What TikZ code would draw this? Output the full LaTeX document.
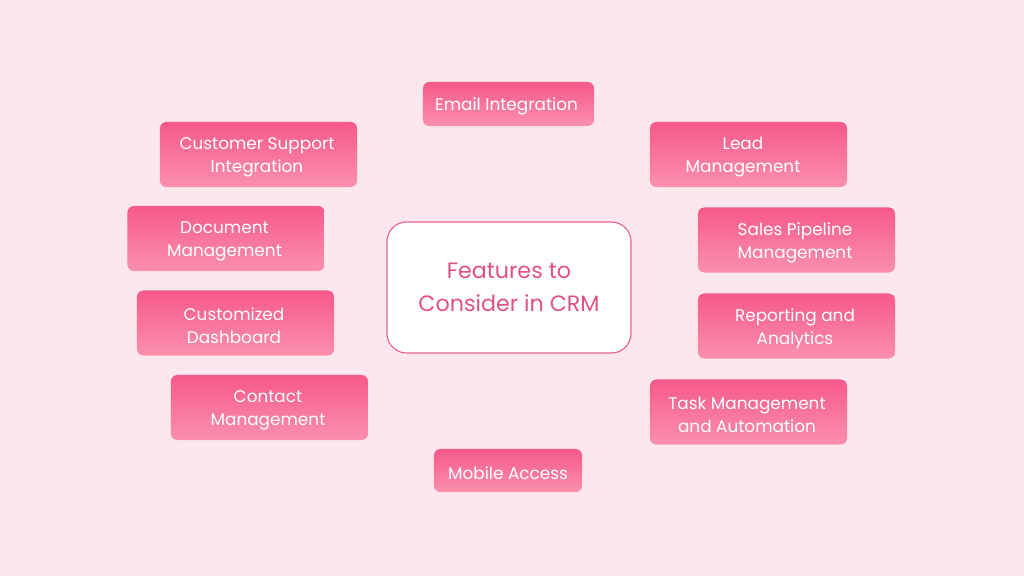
\documentclass[tikz,border=0pt]{standalone}
\usepackage{fontspec}
\setmainfont{Poppins}
\definecolor{bg}{HTML}{FDE7EE}
\definecolor{boxtop}{HTML}{F6598A}
\definecolor{boxbot}{HTML}{FA90AE}
\definecolor{cborder}{HTML}{E5628F}
\definecolor{ctext}{HTML}{E0527F}
\begin{document}
\begin{tikzpicture}[x=0.025cm,y=-0.025cm,
  feat/.style={rounded corners=4.5pt, top color=boxtop, bottom color=boxbot,
    minimum width=4.925cm, minimum height=1.625cm, inner sep=0pt},
  ftext/.style={align=center, text=white, inner sep=0pt,
    font=\fontsize{12}{16.3}\selectfont, yshift=-2.5*0.025cm, xshift=-1.5*0.025cm},
  center/.style={rounded corners=14pt, fill=white, draw=cborder, line width=0.8pt,
    minimum width=6.1cm, minimum height=3.275cm, inner sep=0pt,
    align=center, text=ctext, font=\fontsize{15.8}{23.4}\selectfont}]
\fill[bg] (0,0) rectangle (1024,576);
\useasboundingbox (0,0) rectangle (1024,576);
\node[center] (c) at (509,287.5) {Features to\\Consider in CRM};
\node[feat, minimum width=4.275cm, minimum height=1.1cm,
  label={[ftext, xshift=-0.0125cm]center:Email Integration}] (email) at (508.5,104) {};
\node[feat, minimum width=3.7cm, minimum height=1.075cm,
  label={[ftext, xshift=0.0375cm]center:Mobile Access}] (mobile) at (508,470.5) {};
\node[feat, label={[ftext]center:Customer Support\\Integration}] (cs) at (258.5,154.5) {};
\node[feat, label={[ftext]center:Document\\Management}] (doc) at (226,238.5) {};
\node[feat, label={[ftext]center:Customized\\Dashboard}] (dash) at (235.5,323) {};
\node[feat, label={[ftext]center:Contact\\Management}] (contact) at (269.5,407.5) {};
\node[feat, label={[ftext, xshift=-0.1cm]center:Lead\\Management}] (lead) at (748.5,154.5) {};
\node[feat, label={[ftext]center:Sales Pipeline\\Management}] (sales) at (796.5,240) {};
\node[feat, label={[ftext]center:Reporting and\\Analytics}] (report) at (796.5,326) {};
\node[feat, label={[ftext]center:Task Management\\and Automation}] (task) at (748.5,412) {};
\end{tikzpicture}
\end{document}
